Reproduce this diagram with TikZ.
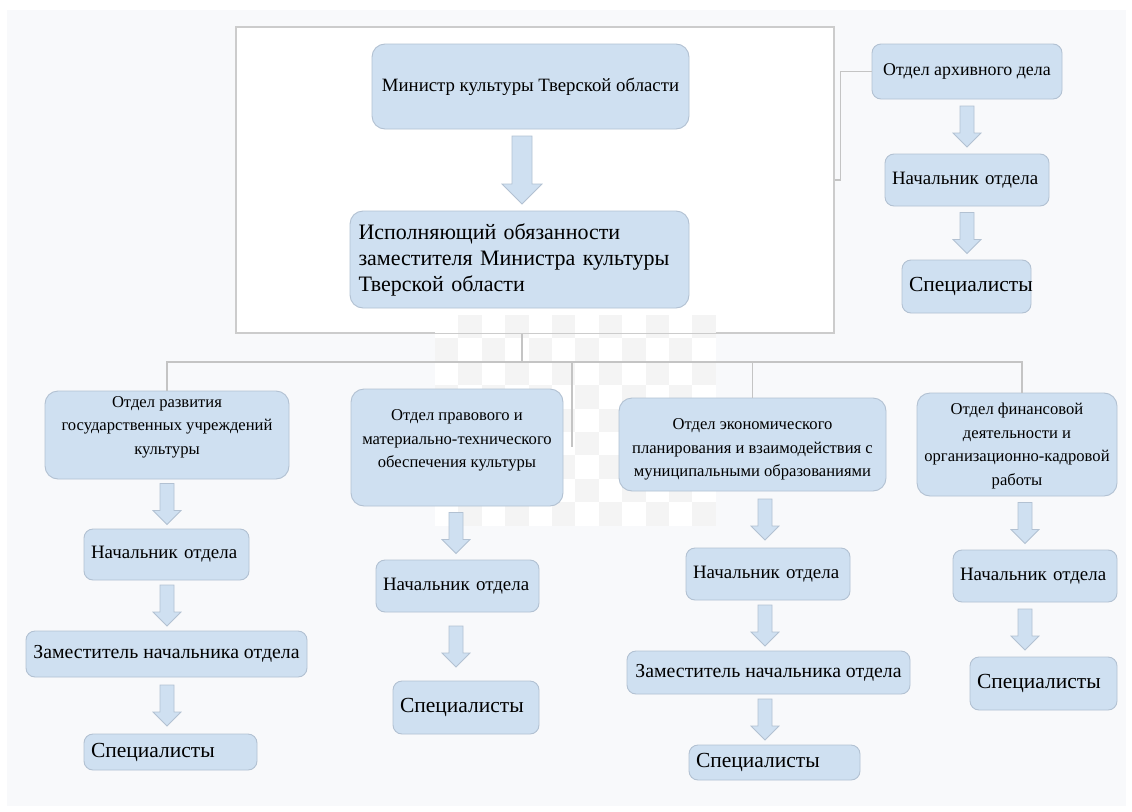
\documentclass[tikz,border=0pt]{standalone}
\usepackage{fontspec}
\setmainfont{Liberation Serif}
\usetikzlibrary{calc}

\definecolor{boxfill}{RGB}{207,224,241}
\definecolor{boxline}{RGB}{178,193,210}
\definecolor{linegray}{RGB}{196,196,196}
\definecolor{framegray}{RGB}{204,204,204}
\definecolor{pagebg}{RGB}{248,249,251}
\definecolor{checkgray}{RGB}{244,244,244}

% block arrow: x, length, from node, to node, half shaft width
\newcommand{\flowarrow}[5]{%
  \draw[flowarr] let \p1=(#3.south), \p2=(#4.north) in
    ({#1pt-#5pt},{(\y1+\y2+#2pt)/2}) -- ({#1pt+#5pt},{(\y1+\y2+#2pt)/2})
    -- ({#1pt+#5pt},{(\y1+\y2-#2pt)/2+2*#5pt}) -- ({#1pt+2*#5pt},{(\y1+\y2-#2pt)/2+2*#5pt})
    -- ({#1pt},{(\y1+\y2-#2pt)/2}) -- ({#1pt-2*#5pt},{(\y1+\y2-#2pt)/2+2*#5pt})
    -- ({#1pt-#5pt},{(\y1+\y2-#2pt)/2+2*#5pt}) -- cycle;}
% centred lines, moved up or down inside the box
\newcommand{\lift}[2]{\raisebox{#1}[\height][\depth]{\begin{tabular}{@{}c@{}}#2\end{tabular}}}

\begin{document}
\begin{tikzpicture}[x=1pt,y=-1pt]
        \tikzstyle{every node}=[inner sep=2pt, text=black]
        \tikzstyle{box}=[draw=boxline, fill=boxfill, line width=0.9pt, rounded corners=9pt, align=center]
        \tikzstyle{bigbox}=[box, rounded corners=13pt]
        \tikzstyle{otdbox}=[box, rounded corners=13pt, font=\fontsize{16.6}{23.5}\selectfont]
        \tikzstyle{headbox}=[box, inner xsep=7pt, align=left, minimum height=52, font=\fontsize{18.9}{22}\selectfont]
        \tikzstyle{zambox}=[box, font=\fontsize{19.8}{22}\selectfont]
        \tikzstyle{specbox}=[box, inner xsep=7pt, align=left, font=\fontsize{21.5}{24}\selectfont]
        \tikzstyle{frame}=[draw=framegray, line width=1.2pt]
        \tikzstyle{link}=[draw=linegray, line width=1.2pt]
        \tikzstyle{flowarr}=[draw=boxline, fill=boxfill, line width=0.8pt]

        % page
        \fill[white] (0,0) rectangle (1132,811);
        \fill[pagebg] (7,10) rectangle (1126,806);
        \node[frame, fill=white, minimum width=598, minimum height=306] (frame) at (535,180) {};
        \fill[white] (435,315) rectangle (716,526);
        \foreach \i in {0,...,11}
          \foreach \j in {0,...,8}
            {\ifodd\numexpr\i+\j\relax \fill[checkgray] ({435+23.4*\i},{315+23.4*\j}) rectangle ++(23.4,23.4);\fi}
        \draw[frame] (frame.north west) rectangle (frame.south east);

        % ministry
        \node[bigbox, minimum width=317, minimum height=85, font=\fontsize{18.8}{22}\selectfont] (minister) at (530.5,86.5) {Министр культуры Тверской области};
        \node[bigbox, minimum width=339, minimum height=97, text width=322, align=left, font=\fontsize{22}{26}\selectfont] (deputy) at (519.5,259.5) {Исполняющий обязанности\\заместителя Министра культуры\\Тверской области};

        % archive
        \node[box, minimum width=190, minimum height=55, font=\fontsize{17.9}{22}\selectfont] (arch) at (967,71.5) {Отдел архивного дела};
        \node[headbox, text width=150] (archhead) at (967,180) {Начальник отдела};
        \node[specbox, text width=115, minimum height=53] (archspec) at (966.5,286.5) {Специалисты};

        % departments
        \node[otdbox, minimum width=244, minimum height=88] (otd1) at (167,435) {\lift{9pt}{Отдел развития\\государственных учреждений\\культуры}};
        \node[otdbox, minimum width=212, minimum height=117] (otd2) at (457,447.5) {\lift{8pt}{Отдел правового и\\материально-технического\\обеспечения культуры}};
        \node[otdbox, minimum width=267, minimum height=93] (otd3) at (752.5,444.5) {\lift{-4pt}{Отдел экономического\\планирования и взаимодействия с\\муниципальными образованиями}};
        \node[otdbox, minimum width=200, minimum height=103] (otd4) at (1017,444.5) {\lift{-1pt}{Отдел финансовой\\деятельности и\\организационно-кадровой\\работы}};

        \node[headbox, text width=151, minimum height=51] (head1) at (166.5,554.5) {Начальник отдела};
        \node[zambox, minimum width=281, minimum height=46] (zam1) at (166.5,654) {Заместитель начальника отдела};
        \node[specbox, text width=159, minimum height=36] (spec1) at (170.5,752) {Специалисты};

        \node[headbox, text width=149] (head2) at (457.5,586) {Начальник отдела};
        \node[specbox, text width=132, minimum height=53] (spec2) at (466,707.5) {Специалисты};

        \node[headbox, text width=150] (head3) at (768,574) {Начальник отдела};
        \node[zambox, minimum width=283, minimum height=43] (zam3) at (768.5,672.5) {Заместитель начальника отдела};
        \node[specbox, text width=157, minimum height=35] (spec3) at (774.5,762.5) {Специалисты};

        \node[headbox, text width=150] (head4) at (1035,576) {Начальник отдела};
        \node[specbox, text width=133, minimum height=53] (spec4) at (1043.5,683.5) {Специалисты};

        % connectors
        \coordinate (hub) at (522,362);
        \coordinate (stub) at (572,447);
        \draw[link] (frame.south -| hub) -- (hub);
        \draw[link] (hub) -| (otd1.north);
        \draw[link] (hub) -| (stub);
        \draw[link] (hub) -| (otd3.north);
        \draw[link] (hub) -| ([xshift=5pt]otd4.north);
        \draw[link] (frame.east) -- ++(6,0) |- (arch.west);

        \flowarrow{522}{68}{minister}{deputy}{10}
        \flowarrow{967}{41}{arch}{archhead}{7}
        \flowarrow{967}{41}{archhead}{archspec}{7}
        \flowarrow{167}{41}{otd1}{head1}{7}
        \flowarrow{167}{41}{head1}{zam1}{7}
        \flowarrow{167}{41}{zam1}{spec1}{7}
        \flowarrow{456}{41}{otd2}{head2}{7}
        \flowarrow{456}{41}{head2}{spec2}{7}
        \flowarrow{765}{41}{otd3}{head3}{7}
        \flowarrow{765}{41}{head3}{zam3}{7}
        \flowarrow{765}{41}{zam3}{spec3}{7}
        \flowarrow{1025}{41}{otd4}{head4}{7}
        \flowarrow{1025}{41}{head4}{spec4}{7}
\end{tikzpicture}
\end{document}
